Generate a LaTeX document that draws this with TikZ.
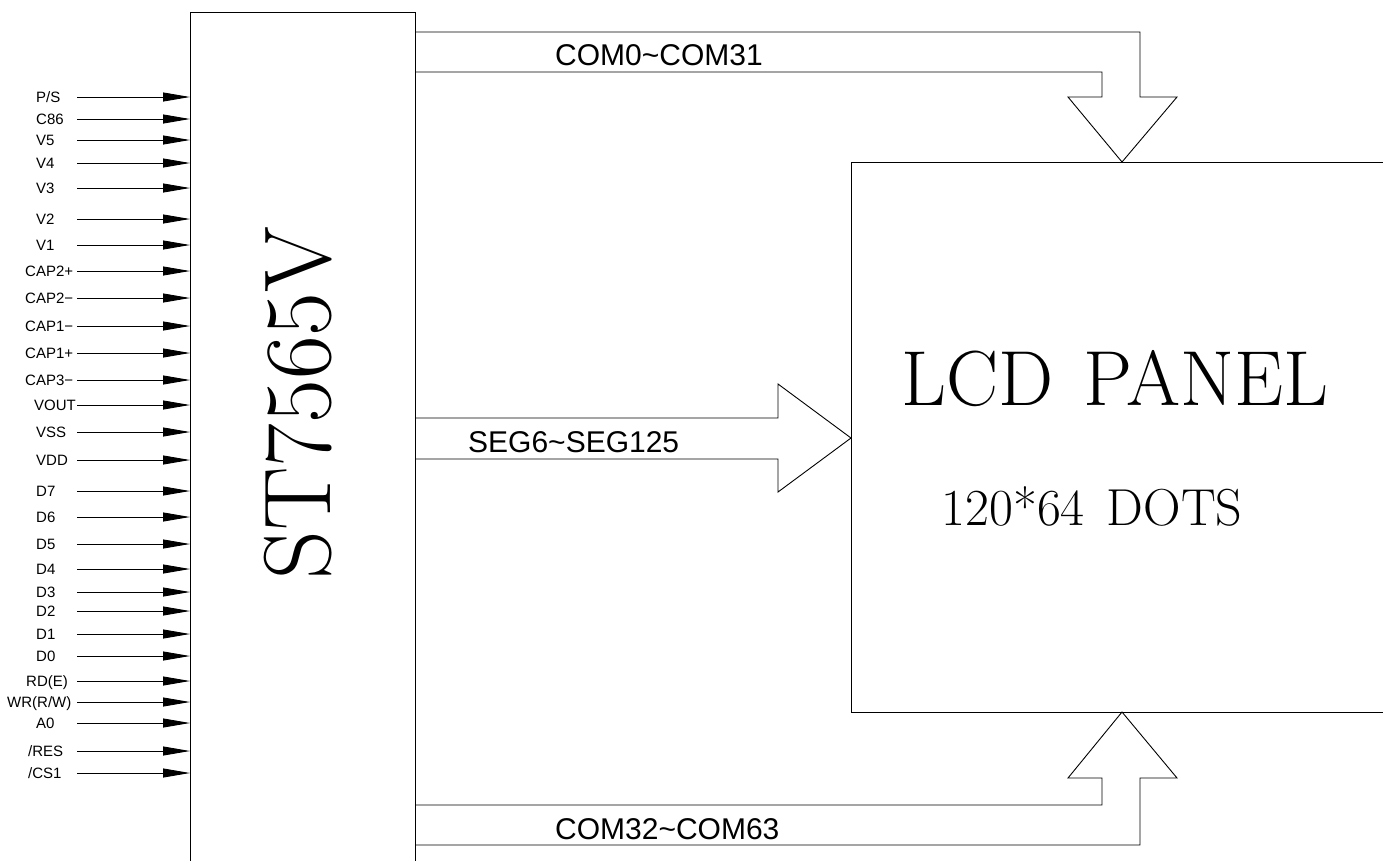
\documentclass[tikz,border=0pt]{standalone}
\usepackage{fontspec}
\setsansfont{Liberation Sans}
\usetikzlibrary{arrows.meta, positioning}

\begin{document}
\begin{tikzpicture}[x=1pt, y=-1pt,
    block/.style={rectangle, draw, line width=0.9pt, inner sep=0pt},
    pin/.style={line width=0.9pt, -{Triangle[length=27pt,width=9pt]}},
    pinlbl/.style={font=\sffamily\fontsize{15}{15}\selectfont, inner sep=0pt, anchor=base west},
    bus/.style={line width=0.9pt, line join=miter},
    buslbl/.style={font=\sffamily\fontsize{30}{30}\selectfont, inner sep=0pt, anchor=base west}]

    \useasboundingbox (0,0) rectangle (1383,860);
    \clip (0,0) rectangle (1383,860);

    % controller and panel
    \node [block, minimum width=225pt, minimum height=870pt, anchor=north west] (chip) at (190,12) {};
    \node [rotate=90, inner sep=0pt, font=\fontsize{95}{95}\selectfont] (chipname) at (298,403) {ST7565V};
    \node [block, minimum width=560pt, minimum height=550pt, anchor=north west] (lcd) at (851,162) {};
    \node [inner sep=0pt, font=\fontsize{78}{78}\selectfont] (title) at (1115,379) {LCD\hspace{30pt}PANEL};
    \node [inner sep=0pt, font=\fontsize{52}{52}\selectfont] (dots) at (1092,506) {120*64\hspace{22pt}DOTS};

    % input pins
    \foreach \y/\x/\txt [count=\i] in {97/36/{P/S}, 119/36/{C86}, 140/36/{V5}, 163/36/{V4}, 188/36/{V3},
        219/36/{V2}, 245/36/{V1}, 271/25/{CAP2+}, 298/25/{CAP2−}, 326/25/{CAP1−}, 353/25/{CAP1+},
        380/25/{CAP3−}, 405/34/{VOUT}, 432/36/{VSS}, 460/36/{VDD}, 491/36/{D7}, 517/36/{D6},
        544/36/{D5}, 569/36/{D4}, 592/36/{D3}, 611/36/{D2}, 634/36/{D1}, 656/36/{D0},
        681/26/{RD(E)}, 702/7/{WR(R/W)}, 723/36/{A0}, 751/28/{/RES}, 773/28/{/CS1}} {
        \node [pinlbl] (lbl\i) at (\x,\y+5.4) {\txt};
        \coordinate (src\i) at (77,\y);
        \draw [pin] (src\i) -- (src\i -| chip.west);
    }

    % buses
    \coordinate (comtip) at (1122,162);
    \coordinate (segtip) at (851,438);
    \coordinate (combot) at (1122,712);
    \draw [bus] (415,32) -- (1140,32) -- (1140,97) -- (1177,97) -- (comtip) -- (1068,97) -- (1102,97) -- (1102,72) -- (415,72);
    \draw [bus] (415,418) -- (778,418) -- (778,384) -- (segtip) -- (778,492) -- (778,459) -- (415,459);
    \draw [bus] (415,805) -- (1102,805) -- (1102,778) -- (1068,778) -- (combot) -- (1177,778) -- (1140,778) -- (1140,845) -- (415,845);
    \node [buslbl] (comhi) at (555,65) {COM0\textasciitilde COM31};
    \node [buslbl] (seg) at (468,452) {SEG6\textasciitilde SEG125};
    \node [buslbl] (comlo) at (555,839) {COM32\textasciitilde COM63};
\end{tikzpicture}
\end{document}
